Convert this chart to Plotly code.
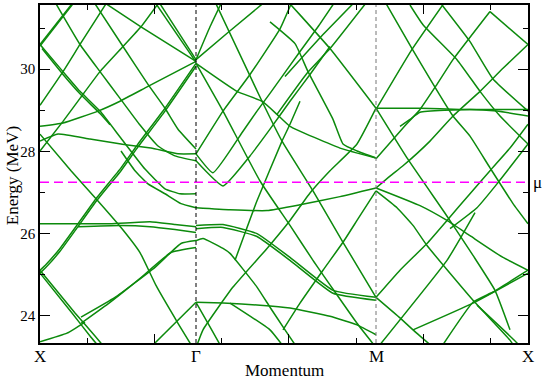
import plotly.graph_objects as go

# momentum path X - Gamma - M - X (arbitrary units along the path)
kpoint_pos = [0.0, 1.56, 3.36, 4.88]
kpoint_labels = ["X", "Γ", "M", "X"]
mu = 27.25                      # chemical potential (MeV)
e_range = [23.34, 31.56]
y_major = [24, 26, 28, 30]
x_major = [1.14, 2.48, 3.83]
x_minor = [0.47, 1.81, 3.16, 4.50]

# bands, each a list of (k, E[MeV]) points
xg_bands = [
    [(0.00, 30.60), (0.32, 31.59)],
    [(0.00, 30.56), (0.33, 31.59)],
    [(0.00, 30.60), (0.23, 29.94), (0.40, 29.46), (0.60, 28.98), (0.81, 28.32), (1.05, 27.57), (1.25, 27.09), (1.40, 26.97), (1.56, 26.97)],
    [(0.02, 30.50), (0.23, 29.87), (0.40, 29.40), (0.60, 28.92), (0.70, 28.65)],
    [(0.16, 31.59), (0.40, 30.60), (0.60, 29.94), (0.80, 29.29), (1.00, 28.64), (1.18, 28.13), (1.35, 27.89), (1.56, 27.77)],
    [(0.55, 31.59), (0.83, 30.55), (1.08, 29.63), (1.25, 29.05), (1.38, 28.54), (1.56, 28.06)],
    [(0.00, 29.12), (0.23, 29.94), (0.40, 30.60), (0.66, 31.59)],
    [(0.00, 28.01), (0.23, 28.73), (0.40, 29.29), (0.60, 29.94), (0.83, 30.55), (1.01, 31.03), (1.18, 31.59)],
    [(0.66, 31.59), (1.01, 31.03), (1.56, 30.19)],
    [(1.20, 31.59), (1.56, 30.23)],
    [(1.16, 31.59), (1.56, 30.17)],
    [(1.56, 30.19), (1.08, 29.58), (0.80, 29.22), (0.58, 28.98), (0.23, 28.69), (0.00, 28.61)],
    [(1.56, 30.14), (1.25, 29.05), (0.98, 28.18), (0.81, 27.60), (0.56, 26.85), (0.38, 26.24), (0.20, 25.64), (0.06, 25.25), (0.00, 25.11)],
    [(1.56, 30.07), (1.25, 28.98), (0.98, 28.11), (0.81, 27.53), (0.56, 26.78), (0.38, 26.17), (0.20, 25.57), (0.06, 25.18), (0.00, 25.04)],
    [(0.00, 28.25), (0.18, 28.42), (0.50, 28.30), (0.81, 28.18), (1.11, 28.08), (1.38, 27.94), (1.56, 27.94)],
    [(0.00, 26.24), (0.70, 26.24), (1.10, 26.29), (1.35, 26.22), (1.56, 26.17)],
    [(0.38, 26.17), (0.80, 26.20), (1.10, 26.17), (1.35, 26.10), (1.56, 26.03)],
    [(0.00, 25.11), (0.35, 24.07), (0.55, 23.51), (0.65, 23.22)],
    [(0.00, 25.04), (0.32, 24.07), (0.50, 23.51), (0.60, 23.22)],
    [(0.41, 23.97), (0.75, 24.45), (1.15, 25.18), (1.41, 25.76), (1.56, 25.83)],
    [(0.41, 23.82), (0.70, 24.33), (0.98, 24.87), (1.31, 25.54), (1.56, 25.66)],
    [(0.00, 28.42), (0.31, 27.53), (0.56, 26.85), (0.81, 26.15), (1.00, 25.54), (1.16, 24.74), (1.38, 23.82), (1.51, 23.30)],
    [(1.10, 23.22), (1.56, 24.33)],
    [(0.00, 23.37), (0.27, 23.58), (0.45, 23.85)],
    [(0.81, 28.01), (0.95, 27.53), (1.08, 27.21), (1.25, 26.97), (1.41, 26.73), (1.56, 26.63)],
]

gm_bands = [
    [(1.56, 30.23), (1.88, 30.89), (2.25, 31.64)],
    [(1.56, 30.23), (1.70, 31.03), (1.82, 31.64)],
    [(1.75, 31.64), (2.08, 29.94), (2.22, 29.22), (2.42, 28.25), (2.73, 27.04), (3.03, 25.79), (3.36, 24.45)],
    [(1.56, 27.94), (1.83, 28.98), (2.10, 29.87), (2.40, 30.98), (2.52, 31.64)],
    [(1.56, 30.14), (1.97, 29.46), (2.22, 29.22), (2.37, 28.90), (2.50, 28.61), (3.00, 28.08), (3.36, 27.84)],
    [(2.48, 31.64), (2.60, 31.32), (2.90, 30.50), (3.36, 29.05)],
    [(3.27, 31.64), (2.90, 30.50), (2.67, 29.90), (2.37, 28.90)],
    [(3.15, 31.64), (2.83, 30.84), (2.60, 30.23), (2.45, 29.82)],
    [(1.56, 27.94), (1.73, 27.48), (2.03, 28.49), (2.17, 28.98), (2.30, 29.41), (2.60, 30.43), (2.78, 31.03), (2.95, 31.64)],
    [(1.56, 27.77), (1.83, 27.16), (2.10, 27.89), (2.30, 28.54), (2.50, 29.22), (2.70, 29.87), (2.90, 30.55)],
    [(1.56, 30.14), (1.83, 28.98), (2.20, 27.28), (2.50, 26.20), (2.73, 25.35), (3.17, 23.82), (3.38, 23.17)],
    [(1.56, 23.22), (1.63, 23.66), (1.93, 24.70), (2.27, 25.64), (2.50, 26.32), (2.70, 26.99), (2.90, 27.53), (3.17, 28.18), (3.36, 29.05)],
    [(1.56, 26.63), (1.90, 26.58), (2.27, 26.56), (2.60, 26.70), (3.00, 26.90), (3.36, 27.11)],
    [(2.43, 23.66), (2.60, 24.31), (2.83, 25.11), (3.03, 25.79), (3.17, 26.32), (3.36, 27.04)],
    [(1.95, 25.35), (2.17, 26.80), (2.42, 28.25), (2.50, 28.66), (2.60, 29.22)],
    [(1.56, 26.20), (1.83, 26.22), (2.17, 26.00), (2.50, 25.42), (2.93, 24.62), (3.36, 24.45)],
    [(1.56, 26.12), (1.83, 26.15), (2.17, 25.93), (2.50, 25.35), (2.93, 24.55), (3.36, 24.38)],
    [(1.56, 25.83), (1.63, 25.88), (1.83, 25.64), (1.90, 25.52), (2.17, 24.70), (2.30, 24.21), (2.45, 23.66), (2.55, 23.30)],
    [(1.56, 24.33), (1.83, 24.31), (2.20, 24.26), (2.50, 24.19), (2.90, 23.99), (3.17, 23.78), (3.36, 23.54)],
    [(1.56, 24.33), (1.70, 23.73), (1.80, 23.30)],
    [(1.90, 24.31), (2.30, 23.66), (2.42, 23.30)],
    [(2.30, 31.15), (2.55, 30.62), (2.68, 29.94), (2.93, 28.78), (3.03, 28.18), (3.17, 28.01), (3.36, 27.84)],
]

mx_bands = [
    [(3.36, 29.02), (3.72, 30.48), (4.05, 31.64)],
    [(3.45, 31.64), (3.72, 30.50), (4.13, 28.86), (4.30, 28.37), (4.50, 27.60), (4.73, 26.73), (4.88, 26.24)],
    [(3.70, 31.56), (3.83, 31.08), (4.17, 30.23), (4.40, 29.46), (4.60, 28.86), (4.88, 28.18)],
    [(4.02, 31.56), (4.30, 30.67), (4.53, 29.76), (4.88, 28.98)],
    [(4.50, 31.40), (4.88, 30.60)],
    [(4.50, 31.40), (4.13, 30.23), (3.97, 29.63), (3.80, 29.02), (3.63, 28.57), (3.36, 27.82)],
    [(4.88, 30.60), (4.63, 30.02), (4.40, 29.46), (4.13, 28.86), (3.90, 28.25), (3.63, 27.65), (3.50, 27.40), (3.36, 27.11)],
    [(3.36, 29.05), (3.80, 29.05), (4.20, 29.02), (4.88, 29.02)],
    [(3.60, 28.61), (3.70, 28.78), (3.80, 28.95), (4.30, 29.02), (4.57, 28.98), (4.88, 28.86)],
    [(3.36, 29.05), (3.67, 27.84), (4.08, 26.39), (4.33, 25.47), (4.55, 24.62), (4.70, 23.66)],
    [(3.36, 27.11), (3.80, 26.68), (4.07, 26.32), (4.30, 25.95), (4.63, 25.42), (4.88, 25.11)],
    [(4.88, 28.66), (4.70, 28.08), (4.50, 27.53), (4.30, 26.97), (4.07, 26.32), (3.87, 25.76), (3.60, 25.11), (3.36, 24.45)],
    [(4.88, 28.18), (4.57, 27.21), (4.37, 26.63), (4.10, 26.12)],
    [(3.36, 27.04), (3.57, 26.63), (3.73, 26.20), (3.87, 25.71), (4.33, 24.38), (4.70, 23.41), (4.75, 23.22)],
    [(3.36, 24.45), (3.60, 23.95), (3.73, 23.66), (3.90, 23.30)],
    [(3.40, 23.30), (4.07, 25.35), (4.23, 26.00), (4.35, 26.51)],
    [(3.73, 23.66), (4.33, 24.31), (4.88, 25.04)],
    [(4.03, 23.30), (4.33, 24.33), (4.53, 24.58), (4.88, 25.11)],
    [(4.37, 24.26), (4.77, 23.34), (4.82, 23.17)],
]

band_x, band_y = [], []
for band in xg_bands + gm_bands + mx_bands:
    for k, e in band:
        band_x.append(k)
        band_y.append(e)
    band_x.append(None)
    band_y.append(None)

FONT = "Times New Roman, Liberation Serif, DejaVu Serif, serif"
fig = go.Figure()
fig.add_trace(go.Scatter(
    x=band_x, y=band_y, mode="lines",
    line=dict(color="#0c8a0c", width=1.5, shape="spline", smoothing=0.4),
    hoverinfo="skip", showlegend=False,
))
# chemical potential
fig.add_trace(go.Scatter(
    x=[kpoint_pos[0], kpoint_pos[-1]], y=[mu, mu], mode="lines",
    line=dict(color="#ff00ff", width=1.6, dash="9px,5px"),
    hoverinfo="skip", showlegend=False,
))
# high-symmetry verticals
fig.add_trace(go.Scatter(
    x=[kpoint_pos[1], kpoint_pos[1]], y=e_range, mode="lines",
    line=dict(color="black", width=1, dash="4px,3px"), showlegend=False,
))
fig.add_trace(go.Scatter(
    x=[kpoint_pos[2], kpoint_pos[2]], y=e_range, mode="lines",
    line=dict(color="#777777", width=1, dash="4px,3px"), showlegend=False,
))

annotations = [
    dict(x=k, y=-0.041, xref="x", yref="paper", text=lab, showarrow=False,
         font=dict(family=FONT, size=17, color="black"), yanchor="middle")
    for k, lab in zip(kpoint_pos, kpoint_labels)
]
annotations += [
    dict(x=0.5, y=-0.082, xref="paper", yref="paper", text="Momentum", showarrow=False,
         font=dict(family=FONT, size=17, color="black"), yanchor="middle"),
    dict(x=-0.057, y=0.494, xref="paper", yref="paper", text="Energy (MeV)", showarrow=False,
         textangle=-90, font=dict(family=FONT, size=17, color="black"), xanchor="center"),
    dict(x=1.0, y=mu, xref="paper", yref="y", text="μ", showarrow=False, xanchor="left",
         xshift=3, font=dict(family=FONT, size=17, color="black")),
]

fig.update_layout(
    width=545, height=380,
    margin=dict(l=40, r=17, t=3, b=37),
    plot_bgcolor="white", paper_bgcolor="white",
    font=dict(family=FONT, color="black"),
    annotations=annotations,
    xaxis=dict(
        range=[kpoint_pos[0], kpoint_pos[-1]], showgrid=False, zeroline=False,
        showline=True, linecolor="black", linewidth=1.5, mirror="ticks",
        ticks="inside", ticklen=9, tickcolor="black", tickvals=x_major, showticklabels=False,
        minor=dict(ticks="inside", ticklen=5, tickvals=x_minor, tickcolor="black"),
    ),
    yaxis=dict(
        range=e_range, showgrid=False, zeroline=False,
        showline=True, linecolor="black", linewidth=1.5, mirror="ticks",
        ticks="inside", ticklen=10, tickcolor="black", tickvals=y_major,
        tickfont=dict(family=FONT, size=15, color="black"),
        minor=dict(ticks="inside", ticklen=5, dtick=1, tickcolor="black"),
    ),
)

fig.write_html("out.html", config={"displayModeBar": False},
               post_script="document.body.style.margin='0';")
